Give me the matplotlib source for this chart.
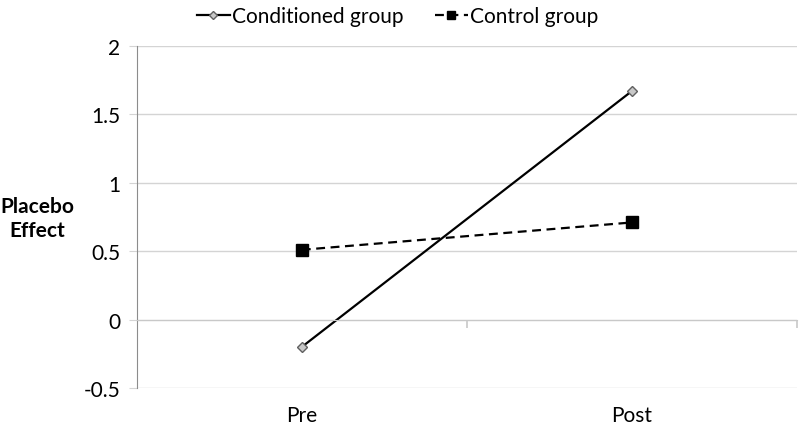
import matplotlib.pyplot as plt
import matplotlib.transforms as mtransforms

plt.rcParams['font.family'] = ['Lato', 'DejaVu Sans']

categories = ['Pre', 'Post']
conditioned = [-0.2, 1.67]
control = [0.51, 0.71]
y_ticks = [-0.5, 0, 0.5, 1, 1.5, 2]
y_labels = ['-0.5', '0', '0.5', '1', '1.5', '2']

fig = plt.figure(figsize=(8, 4.27), dpi=100)
ax = fig.add_axes([0.171, 0.089, 0.825, 0.801])

x = list(range(len(categories)))
ax.plot(x, conditioned, '-', color='black', lw=1.6, marker='D', ms=5,
        mfc='#c8c8c8', mec='#606060', mew=1, label='Conditioned group')
ax.plot(x, control, '--', color='black', lw=1.6, dashes=(4, 2.5), marker='s', ms=8,
        mfc='black', mec='black', label='Control group')

ax.set_xlim(-0.5, 1.5)
ax.set_ylim(-0.5, 2)
ax.set_yticks(y_ticks)
ax.set_yticklabels(y_labels, fontsize=15)
ax.grid(axis='y', color='#d4d4d4', lw=1)
ax.set_axisbelow(True)
ax.tick_params(axis='y', length=6, color='#d4d4d4', pad=6)

for s in ['top', 'right']:
    ax.spines[s].set_visible(False)
ax.spines['left'].set_color('#8c8c8c')
ax.spines['bottom'].set_position(('data', 0))
ax.spines['bottom'].set_color('#c8c8c8')

# category boundary ticks on the zero line
ax.set_xticks([])
ax.set_xticks([0.5, 1.5], minor=True)
ax.tick_params(axis='x', which='minor', length=6, color='#c8c8c8', width=1.2)
ax.tick_params(axis='x', which='minor', labelbottom=False)

trans = mtransforms.blended_transform_factory(ax.transData, ax.transAxes)
for xi, lab in zip(x, categories):
    ax.text(xi, -0.078, lab, transform=trans, ha='center', va='center', fontsize=15)

fig.text(0.047, 0.487, 'Placebo\nEffect', ha='center', va='center',
         fontsize=15, fontweight='bold', linespacing=1.25)

ax.legend(loc='center', bbox_to_anchor=(0.395, 1.087), ncol=2, frameon=False,
          fontsize=15, handlelength=1.6, handletextpad=0.1, columnspacing=1.5,
          borderaxespad=0, markerscale=0.8)

fig.savefig('out.png', dpi=100)
